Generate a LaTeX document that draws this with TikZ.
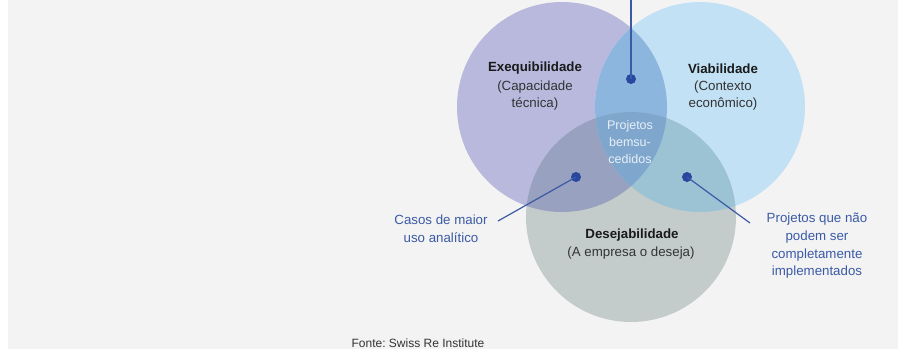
\documentclass[tikz,border=0pt]{standalone}
\usepackage{fontspec}
\setmainfont{Liberation Sans}
\frenchspacing
\definecolor{bg}{HTML}{F3F3F3}
\definecolor{cL}{HTML}{B8B9DD}
\definecolor{cR}{HTML}{C2E1F5}
\definecolor{cB}{HTML}{C4CCCB}
\definecolor{cLR}{HTML}{8DB6DF}
\definecolor{cLB}{HTML}{98A1BF}
\definecolor{cRB}{HTML}{9CC3D3}
\definecolor{cLRB}{HTML}{7FA7CD}
\definecolor{lblue}{HTML}{3B5AA6}
\definecolor{dotblue}{HTML}{2A47A0}
\definecolor{ttl}{HTML}{1A1A1A}
\definecolor{sub}{HTML}{333333}
\definecolor{inner}{HTML}{E8EFF7}
\begin{document}
\begin{tikzpicture}[x=1pt,y=-1pt,
  title/.style={font=\fontsize{13.3}{17}\selectfont\bfseries,text=ttl,inner sep=0pt,align=center},
  subt/.style={font=\fontsize{13.3}{17}\selectfont,text=sub,inner sep=0pt,align=center},
  lbl/.style={font=\fontsize{13.3}{17.7}\selectfont,text=lblue,inner sep=0pt,align=center},
  innerlbl/.style={font=\fontsize{12.5}{17}\selectfont,text=inner,inner sep=0pt,align=center},
  dotnode/.style={circle,fill=dotblue,minimum size=10pt,inner sep=0pt},
  conn/.style={draw=lblue,line width=1.2pt}]
\useasboundingbox (0,0) rectangle (898,349);
\fill[white] (0,0) rectangle (898,349);
\fill[bg] (8,0) rectangle (898,349);
% circles
\def\cL{(562,107) circle (105pt)}
\def\cR{(700,107) circle (105pt)}
\def\cB{(631,217) circle (105pt)}
\fill[cL] \cL;
\fill[cR] \cR;
\fill[cB] \cB;
\begin{scope}\clip \cL; \fill[cLR] \cR; \end{scope}
\begin{scope}\clip \cL; \fill[cLB] \cB; \end{scope}
\begin{scope}\clip \cR; \fill[cRB] \cB; \end{scope}
\begin{scope}\clip \cL; \clip \cR; \fill[cLRB] \cB; \end{scope}
% circle texts
\node[title] (t1) at (535,68.5) {Exequibilidade};
\node[subt] (s1) at (535,96) {(Capacidade\\técnica)};
\node[title] (t2) at (723,68.5) {Viabilidade};
\node[subt] (s2) at (723,96) {(Contexto\\econômico)};
\node[title] (t3) at (632,235) {Desejabilidade};
\node[subt] (s3) at (631,253) {(A empresa o deseja)};
\node[innerlbl] (c) at (630,142) {Projetos\\bemsu-\\cedidos};
% dots and connectors
\node[dotnode] (d1) at (631,79) {};
\node[dotnode] (d2) at (576,177) {};
\node[dotnode] (d3) at (687,177) {};
\coordinate (top) at (631,0);
\coordinate (e2) at (498,221);
\coordinate (e3) at (750,223);
\draw[conn] (d1.center) -- (top);
\draw[conn] (d2.center) -- (e2);
\draw[conn] (d3.center) -- (e3);
\node[lbl] (l2) at (441,229) {Casos de maior\\uso analítico};
\node[lbl] (l3) at (817,246) {Projetos que não\\podem ser\\completamente\\implementados};
\node[font=\fontsize{12}{14}\selectfont,text=sub,inner sep=0pt] (src) at (418,343) {Fonte: Swiss Re Institute};
\end{tikzpicture}
\end{document}
